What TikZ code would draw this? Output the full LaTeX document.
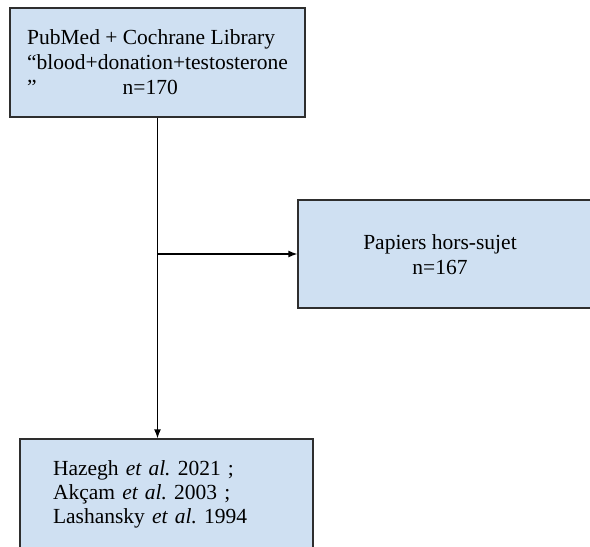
\documentclass[tikz,border=0pt]{standalone}
\usepackage{fontspec}
\setmainfont{Liberation Serif}
\usetikzlibrary{arrows.meta}
\definecolor{boxblue}{HTML}{CFE0F2}
\definecolor{boxline}{HTML}{2E2E2E}
\tikzset{
  box/.style={draw=boxline, line width=1.3pt, fill=boxblue, inner sep=0pt},
  txt/.style={font=\fontsize{21.5}{25}\selectfont, align=left}
}

\begin{document}
\begin{tikzpicture}[x=1pt, y=-1pt, >={Latex[length=9pt,width=7pt]}, line width=1.3pt]

  \clip (0, 0) rectangle (590, 547);
  \node[box, txt, minimum width=295pt, minimum height=109pt] (src) at (157.5, 62.5) {PubMed + Cochrane Library\\“blood+donation+testosterone\\”\hspace{86pt}n=170};
  \node[box, minimum width=302pt, minimum height=108pt] (off) at (449, 254) {};
  \node[txt, align=center] (offlbl) at (440, 255) {Papiers hors-sujet\\n=167};
  \node[box, txt, font=\fontsize{21.5}{24}\selectfont, text width=227pt, minimum width=293pt, minimum height=110pt] (res) at (166.5, 494) {Hazegh \textit{et al.}\ 2021 ;\\Akçam \textit{et al.}\ 2003 ;\\Lashansky \textit{et al.}\ 1994};
  \draw [->] (src.south) -- (src.south |- res.north);
  \draw [->] (src.south |- off.west) -- (off.west);

\end{tikzpicture}
\end{document}
